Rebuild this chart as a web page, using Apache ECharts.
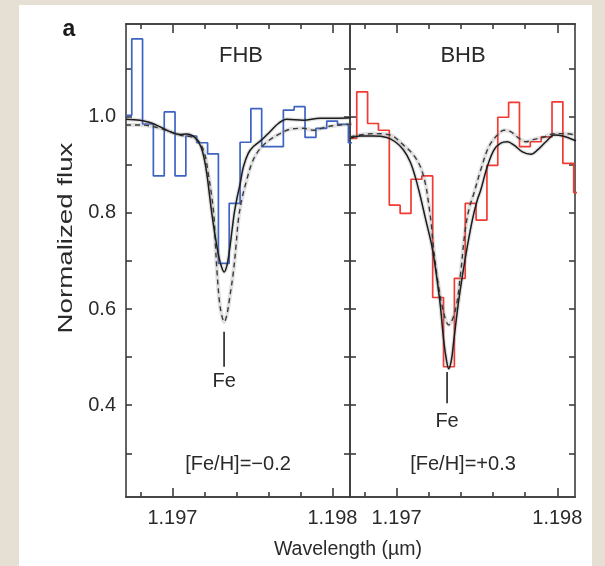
<!DOCTYPE html>
<html>
<head>
<meta charset="utf-8">
<script src="https://cdn.jsdelivr.net/npm/echarts@6/dist/echarts.min.js"></script>
<style>
  html, body { margin: 0; padding: 0; background: #e6dfd4; }
  #sheet { position: absolute; left: 19px; top: 5px; width: 573px; height: 561px; background: #ffffff; }
  #chart { position: absolute; left: 0; top: 0; width: 605px; height: 566px; }
</style>
</head>
<body>
<div id="sheet"></div>
<div id="chart"></div>
<script>
// Observed spectra (binned) — bin centre wavelength (µm) and normalized flux
const wlFHB = [1.196712, 1.196780, 1.196847, 1.196915, 1.196983, 1.197050, 1.197118, 1.197186,
  1.197254, 1.197321, 1.197389, 1.197457, 1.197524, 1.197592, 1.197660, 1.197727,
  1.197795, 1.197863, 1.197931, 1.197998, 1.198066, 1.198134];
const fluxFHB = [1.003, 1.162, 0.985, 0.877, 1.010, 0.877, 0.960, 0.946,
  0.923, 0.695, 0.820, 0.947, 1.017, 0.938, 0.938, 1.014,
  1.021, 0.957, 0.976, 0.991, 0.984, 0.946];

const wlBHB = [1.196718, 1.196786, 1.196853, 1.196921, 1.196988, 1.197056, 1.197123, 1.197191,
  1.197258, 1.197326, 1.197393, 1.197461, 1.197528, 1.197596, 1.197663, 1.197731,
  1.197798, 1.197866, 1.197933, 1.198001, 1.198068, 1.198136];
const fluxBHB = [0.955, 1.052, 0.986, 0.972, 0.816, 0.799, 0.870, 0.877,
  0.624, 0.480, 0.664, 0.820, 0.785, 0.899, 0.999, 1.030,
  0.938, 0.948, 0.958, 1.031, 0.903, 0.842];

// Synthetic spectra: best fit (solid) and comparison model (dashed)
const fitFHB_wl = [1.19671, 1.196798, 1.196860, 1.196923, 1.196985, 1.197048, 1.197091, 1.197129,
  1.197154, 1.197179, 1.197198, 1.197216, 1.197232, 1.197248, 1.197266, 1.197285, 1.197304,
  1.197323, 1.197341, 1.197357, 1.197373, 1.197388, 1.197404, 1.197423, 1.197443, 1.197474,
  1.197506, 1.197558, 1.197610, 1.197662, 1.197714, 1.197818, 1.197923, 1.198027, 1.198116];
const fitFHB_flux = [0.995, 0.993, 0.988, 0.979, 0.969, 0.963, 0.964, 0.960,
  0.952, 0.937, 0.914, 0.879, 0.837, 0.795, 0.755, 0.718, 0.691,
  0.677, 0.691, 0.723, 0.765, 0.802, 0.831, 0.860, 0.895, 0.924,
  0.938, 0.952, 0.969, 0.986, 0.995, 0.993, 0.997, 0.997, 0.998];

const altFHB_wl = [1.19671, 1.196798, 1.196923, 1.197048, 1.197131, 1.197173, 1.197204, 1.197224,
  1.197246, 1.197260, 1.197269, 1.197279, 1.197293, 1.197307, 1.197324, 1.197341, 1.197356,
  1.197381, 1.197398, 1.197412, 1.197433, 1.197464, 1.197496, 1.197527, 1.197568, 1.197621,
  1.197673, 1.197735, 1.197818, 1.197881, 1.197964, 1.198048, 1.198129];
const altFHB_flux = [0.983, 0.983, 0.976, 0.962, 0.957, 0.945, 0.920, 0.882,
  0.834, 0.792, 0.733, 0.677, 0.619, 0.589, 0.573, 0.589, 0.619,
  0.677, 0.733, 0.785, 0.827, 0.868, 0.903, 0.924, 0.941, 0.955,
  0.965, 0.974, 0.976, 0.972, 0.979, 0.983, 0.985];

const fitBHB_wl = [1.19671, 1.196773, 1.196856, 1.196939, 1.196991, 1.197043, 1.197085, 1.197116,
  1.197148, 1.197179, 1.197224, 1.197268, 1.197293, 1.197310, 1.197324, 1.197341, 1.197356,
  1.197387, 1.197429, 1.197471, 1.197502, 1.197523, 1.197564, 1.197606, 1.197648, 1.197689,
  1.197731, 1.197783, 1.197835, 1.197877, 1.197929, 1.197981, 1.198033, 1.198116];
const fitBHB_flux = [0.955, 0.960, 0.960, 0.957, 0.948, 0.931, 0.906, 0.875,
  0.834, 0.789, 0.723, 0.619, 0.535, 0.494, 0.476, 0.494, 0.535,
  0.619, 0.709, 0.785, 0.827, 0.847, 0.896, 0.931, 0.945, 0.948,
  0.941, 0.927, 0.922, 0.931, 0.948, 0.962, 0.960, 0.950];

const altBHB_wl = [1.19671, 1.196856, 1.196960, 1.197043, 1.197106, 1.197148, 1.197179, 1.197199,
  1.197216, 1.197228, 1.197252, 1.197289, 1.197324, 1.197366, 1.197398, 1.197424, 1.197449,
  1.197481, 1.197523, 1.197574, 1.197627, 1.197668, 1.197710, 1.197762, 1.197804, 1.197856,
  1.197918, 1.197981, 1.198043, 1.198116];
const altBHB_flux = [0.958, 0.965, 0.962, 0.941, 0.920, 0.896, 0.861, 0.820,
  0.775, 0.733, 0.667, 0.598, 0.567, 0.598, 0.674, 0.757, 0.806,
  0.841, 0.889, 0.938, 0.962, 0.972, 0.969, 0.955, 0.948, 0.953,
  0.958, 0.965, 0.965, 0.962];

// Fe line markers: wavelength, marker top/bottom flux, label flux
const feFHB = { wl: 1.197323, top: 0.553, bottom: 0.480, label: 0.450 };
const feBHB = { wl: 1.197314, top: 0.469, bottom: 0.404, label: 0.367 };

// Axis ranges and ticks
const X_RANGE = [1.19671, 1.19811];
const Y_RANGE = [0.209, 1.193];
const xMajor = [1.197, 1.198];
const xMinor = [1.1968, 1.1972, 1.1974, 1.1976, 1.1978];
const yTicks = [0.3, 0.4, 0.5, 0.6, 0.7, 0.8, 0.9, 1.0, 1.1];
const yLabels = [0.4, 0.6, 0.8, 1.0];

const FONT = '"Liberation Sans", Arial, Helvetica, sans-serif';
const TEXT = '#2a2a2a';
const AXIS = '#3c3c3c';
const BLUE = '#3d63c4';
const RED = '#f23a32';
const HALO = 'rgba(120,120,120,0.22)';

const zip = (a, b) => a.map((v, i) => [v, b[i]]);

function xAxisDef(gridIndex, position, ticks, len, labels) {
  return {
    type: 'value', gridIndex, position, min: X_RANGE[0], max: X_RANGE[1],
    axisLine: { show: true, onZero: false, lineStyle: { color: AXIS, width: 1.6 } },
    axisTick: { show: true, inside: true, length: len, customValues: ticks,
      lineStyle: { color: AXIS, width: 1.6 } },
    axisLabel: labels ? { show: true, customValues: xMajor, formatter: v => v.toFixed(3),
      margin: 11, fontSize: 20, color: TEXT, fontFamily: FONT } : { show: false },
    splitLine: { show: false }
  };
}
function yAxisDef(gridIndex, position, labels) {
  return {
    type: 'value', gridIndex, position, min: Y_RANGE[0], max: Y_RANGE[1],
    axisLine: { show: true, onZero: false, lineStyle: { color: AXIS, width: 1.6 } },
    axisTick: { show: true, inside: true, length: 6, customValues: yTicks,
      lineStyle: { color: AXIS, width: 1.6 } },
    axisLabel: labels ? { show: true, customValues: yLabels, formatter: v => v.toFixed(1),
      margin: 10, fontSize: 20, color: TEXT, fontFamily: FONT } : { show: false },
    splitLine: { show: false }
  };
}

const xAxes = [];
const yAxes = [];
[0, 1].forEach(g => {
  xAxes.push(xAxisDef(g, 'bottom', xMajor, 9, true));
  xAxes.push(xAxisDef(g, 'bottom', xMinor, 5, false));
  xAxes.push(xAxisDef(g, 'top', xMajor, 9, false));
  xAxes.push(xAxisDef(g, 'top', xMinor, 5, false));
  yAxes.push(yAxisDef(g, 'left', g === 0));
  yAxes.push(yAxisDef(g, 'right', false));
});

function panelSeries(g, wl, flux, color, fitWl, fitFlux, altWl, altFlux, fe) {
  const xi = g * 4, yi = g * 2;
  const base = { xAxisIndex: xi, yAxisIndex: yi, symbol: 'none', silent: true, animation: false };
  return [
    Object.assign({}, base, { type: 'line', step: 'middle', data: zip(wl, flux), z: 3,
      lineStyle: { color, width: 1.7 } }),
    Object.assign({}, base, { type: 'line', smooth: 0.35, data: zip(altWl, altFlux), z: 4,
      lineStyle: { color: HALO, width: 4 } }),
    Object.assign({}, base, { type: 'line', smooth: 0.35, data: zip(fitWl, fitFlux), z: 4,
      lineStyle: { color: HALO, width: 4 } }),
    Object.assign({}, base, { type: 'line', smooth: 0.35, data: zip(altWl, altFlux), z: 5,
      lineStyle: { color: '#3a3a3a', width: 1.4, type: [5, 4] } }),
    Object.assign({}, base, { type: 'line', smooth: 0.35, data: zip(fitWl, fitFlux), z: 6,
      lineStyle: { color: '#1c1c1c', width: 1.5 } }),
    Object.assign({}, base, { type: 'line', data: [[fe.wl, fe.top], [fe.wl, fe.bottom]], z: 6,
      lineStyle: { color: '#222', width: 1.6 } })
  ];
}

function txt(text, x, y, size, extra) {
  return Object.assign({ type: 'text', x, y, silent: true,
    style: { text, fill: TEXT, font: size + 'px ' + FONT, align: 'center', verticalAlign: 'middle' } },
    extra || {});
}

const chart = echarts.init(document.getElementById('chart'), null, { renderer: 'canvas' });
const graphics = [
  txt('a', 69, 30, 22, { style: { text: 'a', fill: '#1a1a1a', font: 'bold 23px ' + FONT, align: 'center', verticalAlign: 'middle' } }),
  txt('FHB', 241, 56, 22),
  txt('BHB', 463, 56, 22),
  txt('[Fe/H]=\u22120.2', 238, 464, 20),
  txt('[Fe/H]=+0.3', 463, 464, 20),
  txt('Wavelength (\u00b5m)', 348, 550, 19.5),
  txt('Normalized flux', 67, 238, 19.5, { rotation: Math.PI / 2, scaleX: 1.42 })
];
chart.setOption({
  animation: false,
  backgroundColor: 'transparent',
  grid: [
    { left: 126, top: 24, width: 224, height: 473 },
    { left: 350, top: 24, width: 225, height: 473 }
  ],
  xAxis: xAxes,
  yAxis: yAxes,
  series: [].concat(
    panelSeries(0, wlFHB, fluxFHB, BLUE, fitFHB_wl, fitFHB_flux, altFHB_wl, altFHB_flux, feFHB),
    panelSeries(1, wlBHB, fluxBHB, RED, fitBHB_wl, fitBHB_flux, altBHB_wl, altBHB_flux, feBHB)
  ),
  graphic: graphics
});

// "Fe" labels placed at the line wavelength through each panel's axes
[[0, feFHB], [1, feBHB]].forEach(([g, fe]) => {
  const p = chart.convertToPixel({ xAxisIndex: g * 4, yAxisIndex: g * 2 }, [fe.wl, fe.label]);
  graphics.push(txt('Fe', p[0], p[1], 20));
});
chart.setOption({ graphic: graphics });
</script>
</body>
</html>
